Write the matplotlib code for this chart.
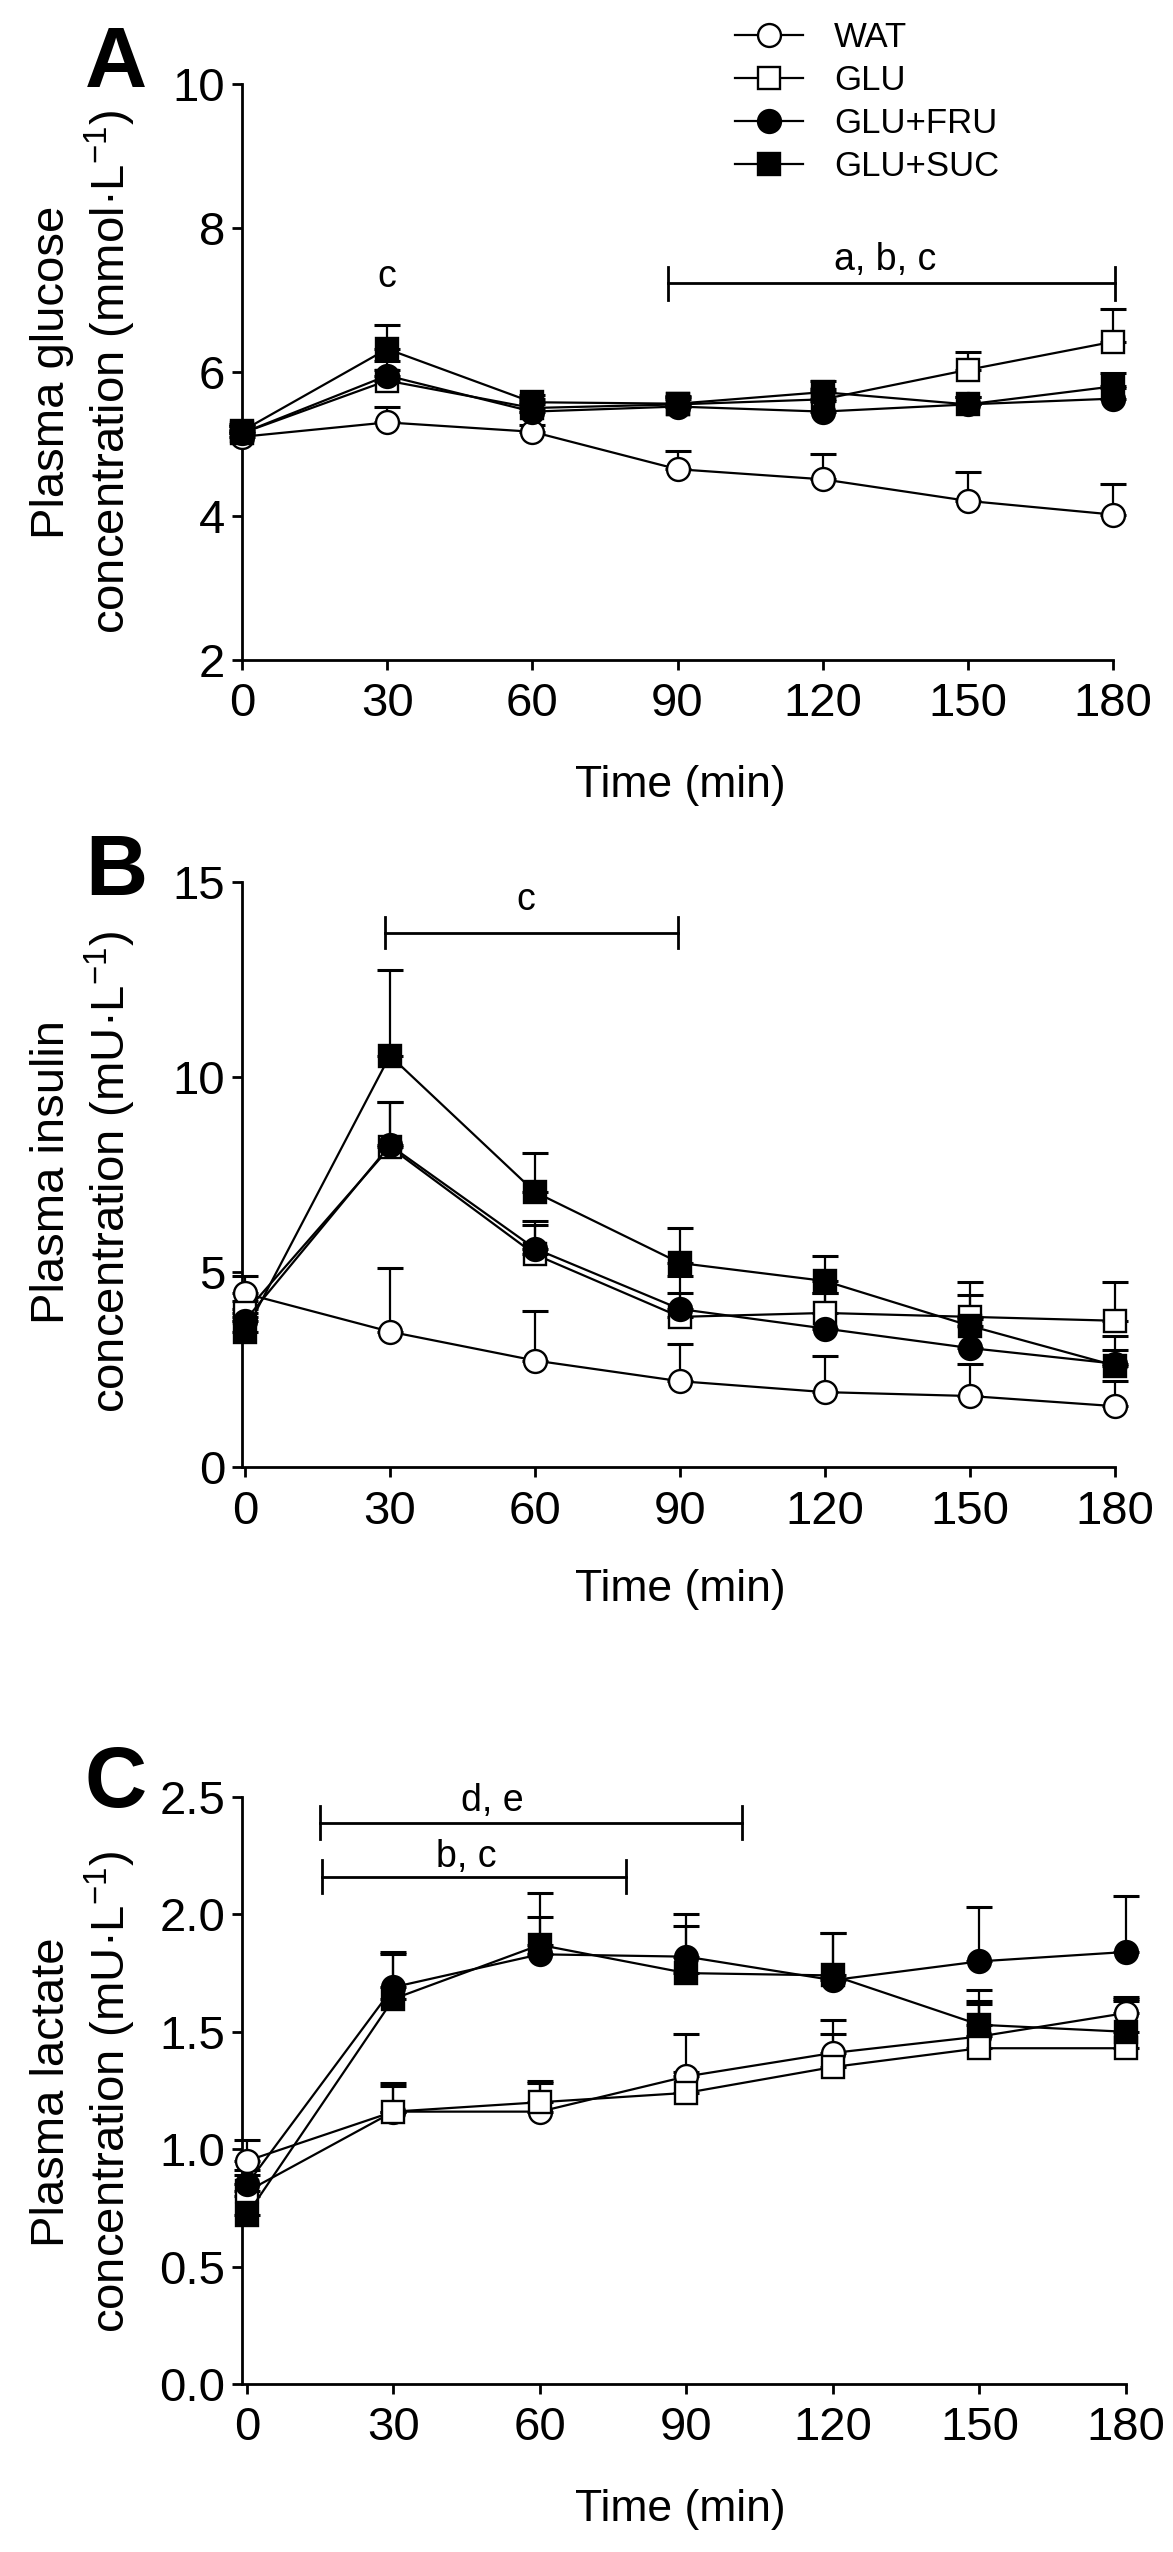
import numpy as np
import matplotlib
matplotlib.use("Agg")
import matplotlib.pyplot as plt
from matplotlib.lines import Line2D

plt.rcParams["font.family"] = ["Liberation Sans", "DejaVu Sans"]
plt.rcParams["mathtext.fontset"] = "custom"
plt.rcParams["mathtext.rm"] = "Liberation Sans"
plt.rcParams["mathtext.it"] = "Liberation Sans:italic"

# ── Data ──────────────────────────────────────────────────────────────────────
TIME = [0, 30, 60, 90, 120, 150, 180]
GROUPS = ["WAT", "GLU", "GLU+FRU", "GLU+SUC"]

# A: plasma glucose (mmol/L), mean and upper SD
GLUC_WAT = [5.10, 5.30, 5.17, 4.65, 4.51, 4.21, 4.02]
GLUC_GLU = [5.15, 5.88, 5.50, 5.55, 5.62, 6.03, 6.42]
GLUC_FRU = [5.15, 5.95, 5.45, 5.52, 5.45, 5.55, 5.63]
GLUC_SUC = [5.18, 6.32, 5.58, 5.56, 5.72, 5.55, 5.80]
GLUC_WAT_SD = [0.10, 0.22, 0.10, 0.25, 0.35, 0.40, 0.43]
GLUC_GLU_SD = [0.10, 0.15, 0.12, 0.10, 0.15, 0.25, 0.45]
GLUC_FRU_SD = [0.10, 0.20, 0.10, 0.10, 0.15, 0.10, 0.15]
GLUC_SUC_SD = [0.10, 0.33, 0.10, 0.10, 0.15, 0.10, 0.18]

# B: plasma insulin (mU/L)
INS_WAT = [4.45, 3.47, 2.73, 2.20, 1.92, 1.82, 1.56]
INS_GLU = [3.95, 8.20, 5.45, 3.85, 3.95, 3.85, 3.75]
INS_FRU = [3.75, 8.25, 5.60, 4.05, 3.55, 3.05, 2.65]
INS_SUC = [3.45, 10.55, 7.05, 5.23, 4.77, 3.62, 2.60]
INS_WAT_SD = [0.45, 1.63, 1.27, 0.96, 0.93, 0.82, 0.64]
INS_GLU_SD = [0.30, 1.15, 0.75, 0.60, 0.50, 0.90, 1.00]
INS_FRU_SD = [0.30, 1.10, 0.70, 0.85, 0.90, 0.75, 0.72]
INS_SUC_SD = [0.40, 2.20, 1.00, 0.91, 0.64, 0.80, 0.40]

# C: plasma lactate
LAC_WAT = [0.95, 1.16, 1.16, 1.31, 1.41, 1.48, 1.58]
LAC_GLU = [0.82, 1.16, 1.20, 1.24, 1.35, 1.43, 1.43]
LAC_FRU = [0.85, 1.69, 1.83, 1.82, 1.72, 1.80, 1.84]
LAC_SUC = [0.72, 1.64, 1.87, 1.75, 1.74, 1.53, 1.50]
LAC_WAT_SD = [0.09, 0.11, 0.12, 0.18, 0.14, 0.15, 0.07]
LAC_GLU_SD = [0.07, 0.12, 0.09, 0.09, 0.14, 0.19, 0.20]
LAC_FRU_SD = [0.06, 0.14, 0.26, 0.18, 0.20, 0.23, 0.24]
LAC_SUC_SD = [0.08, 0.20, 0.12, 0.20, 0.18, 0.15, 0.14]

# ── Styling ───────────────────────────────────────────────────────────────────
W, H = 1173, 2552
STYLES = [("o", "white"), ("s", "white"), ("o", "black"), ("s", "black")]
MS = 16.5
TICK_FS = 34
LABEL_FS = 32
YLABEL_FS = 34
NOTE_FS = 27


def fx(px):
    return px / W


def fy(py):
    return 1 - py / H


def add_axes_px(left, top, right, bottom):
    return fig.add_axes([fx(left), fy(bottom), (right - left) / W, (bottom - top) / H])


def draw_panel(ax, means, sds, xlim, ylim, yticks, ylabels):
    for i, (y, sd, (mk, fc)) in enumerate(zip(means, sds, STYLES)):
        eb = ax.errorbar(TIME, y, yerr=[np.zeros(len(sd)), sd], fmt="none",
                         ecolor="black", elinewidth=1.6, capsize=9.5,
                         capthick=2.2, zorder=2 + i * 0.1)
        for art in list(eb.lines[1]) + list(eb.lines[2]):
            art.set_clip_on(False)
        ax.plot(TIME, y, color="black", lw=1.6, marker=mk, ms=MS,
                mfc=fc, mec="black", mew=1.7, zorder=3 + i * 0.1, clip_on=False)

    ax.set_xlim(*xlim)
    ax.set_ylim(*ylim)
    ax.set_xticks(TIME)
    ax.set_yticks(yticks)
    ax.set_yticklabels(ylabels)
    for side in ("top", "right"):
        ax.spines[side].set_visible(False)
    for side in ("left", "bottom"):
        ax.spines[side].set_linewidth(2.0)
    ax.tick_params(axis="both", direction="out", length=7.2, width=2.0,
                   labelsize=TICK_FS)
    ax.tick_params(axis="x", pad=9)
    ax.tick_params(axis="y", pad=5)


def bracket(ax, x0, x1, y, half, text, tx, ty):
    kw = dict(color="black", lw=2.0, clip_on=False)
    ax.plot([x0, x1], [y, y], **kw)
    ax.plot([x0, x0], [y - half, y + half], **kw)
    ax.plot([x1, x1], [y - half, y + half], **kw)
    ax.text(tx, ty, text, ha="center", va="center", fontsize=NOTE_FS)


fig = plt.figure(figsize=(W / 100, H / 100), dpi=100)

# ── Panel A ───────────────────────────────────────────────────────────────────
axA = add_axes_px(242, 84, 1113, 660)
draw_panel(axA, [GLUC_WAT, GLUC_GLU, GLUC_FRU, GLUC_SUC],
           [GLUC_WAT_SD, GLUC_GLU_SD, GLUC_FRU_SD, GLUC_SUC_SD],
           (0, 180), (2, 10), [2, 4, 6, 8, 10], ["2", "4", "6", "8", "10"])
axA.text(30, 7.32, "c", ha="center", va="center", fontsize=NOTE_FS)
bracket(axA, 88, 180.5, 7.23, 0.23, "a, b, c", 133, 7.56)

# ── Panel B ───────────────────────────────────────────────────────────────────
axB = add_axes_px(242, 882, 1115, 1467)
draw_panel(axB, [INS_WAT, INS_GLU, INS_FRU, INS_SUC],
           [INS_WAT_SD, INS_GLU_SD, INS_FRU_SD, INS_SUC_SD],
           (-0.6, 180), (0, 15), [0, 5, 10, 15], ["0", "5", "10", "15"])
bracket(axB, 29, 89.5, 13.7, 0.4, "c", 58, 14.55)

# ── Panel C ───────────────────────────────────────────────────────────────────
axC = add_axes_px(242, 1797, 1126, 2384)
draw_panel(axC, [LAC_WAT, LAC_GLU, LAC_FRU, LAC_SUC],
           [LAC_WAT_SD, LAC_GLU_SD, LAC_FRU_SD, LAC_SUC_SD],
           (-1, 180), (0, 2.5), [0, 0.5, 1.0, 1.5, 2.0, 2.5],
           ["0.0", "0.5", "1.0", "1.5", "2.0", "2.5"])
bracket(axC, 15, 101.4, 2.39, 0.07, "d, e", 50.3, 2.485)
bracket(axC, 15.3, 77.6, 2.16, 0.07, "b, c", 44.9, 2.245)

# ── Labels ────────────────────────────────────────────────────────────────────
for letter, base in [("A", 87), ("B", 895), ("C", 1807)]:
    fig.text(fx(116), fy(base), letter, fontsize=62, fontweight="bold",
             ha="center", va="baseline")

for cy in (785, 1590, 2510):
    fig.text(fx(680), fy(cy), "Time (min)", fontsize=LABEL_FS,
             ha="center", va="center")

YLABELS = [
    ("Plasma glucose\nconcentration (mmol·L$^{-1}$)", 372),
    ("Plasma insulin\nconcentration (mU·L$^{-1}$)", 1172),
    ("Plasma lactate\nconcentration (mU·L$^{-1}$)", 2092),
]
for text, cy in YLABELS:
    fig.text(fx(84), fy(cy), text, rotation=90, fontsize=YLABEL_FS,
             ha="center", va="center", multialignment="center", linespacing=1.2)

# ── Legend ────────────────────────────────────────────────────────────────────
handles = [Line2D([], [], color="black", lw=1.6, marker=mk, ms=MS,
                  mfc=fc, mec="black", mew=1.7) for mk, fc in STYLES]
fig.legend(handles, GROUPS, loc="upper left", bbox_to_anchor=(fx(735), fy(21)),
           frameon=False, fontsize=25, handlelength=1.95, handletextpad=0.9,
           labelspacing=0.29, borderpad=0, borderaxespad=0)

fig.savefig("out.png", dpi=100, facecolor="white")
